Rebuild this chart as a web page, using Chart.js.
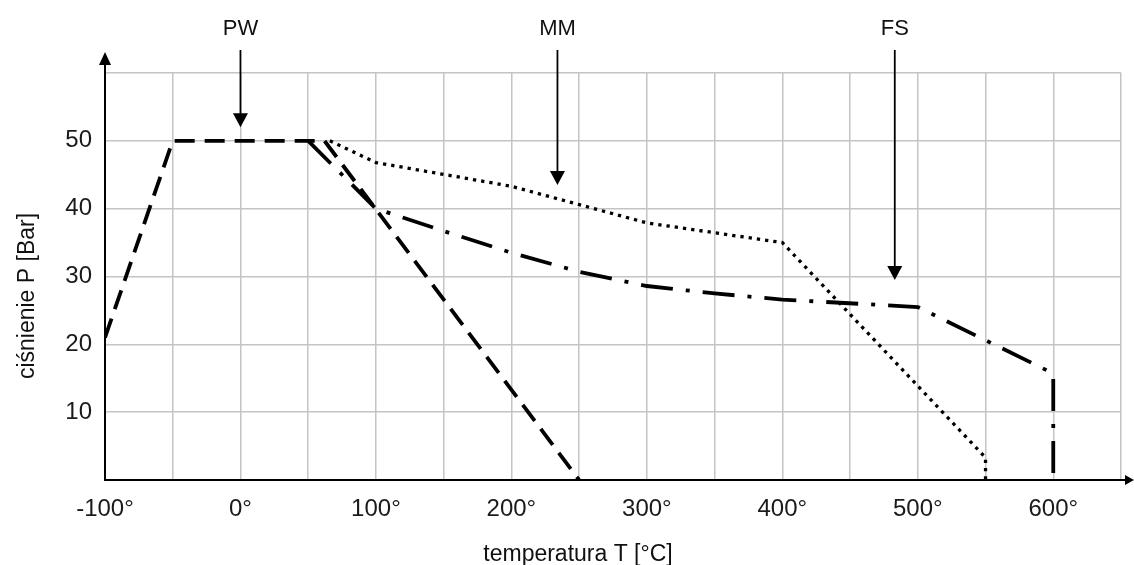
<!DOCTYPE html>
<html>
<head>
<meta charset="utf-8">
<script src="https://cdn.jsdelivr.net/npm/chart.js@4"></script>
<style>
  body { margin: 0; background: #fff; }
  #wrap { width: 1134px; height: 565px; }
</style>
</head>
<body>
<div id="wrap"><canvas id="myChart"></canvas></div>
<script>
// values: temperature [°C] / pressure [Bar]
const pwT = [-100, -50, 62, 250];
const pwP = [21, 50, 50, 0];

const mmT = [66, 100, 200, 300, 400, 550, 550];
const mmP = [50, 46.8, 43.3, 37.9, 35, 3.3, 0];

const fsT = [50, 100, 150, 200, 250, 300, 350, 400, 500, 600, 600];
const fsP = [50, 40, 36.7, 33.5, 30.7, 28.6, 27.5, 26.6, 25.5, 15.7, 0];

// arrows above the chart: label, temperature, pressure at arrow tip
const markerNames = ["PW", "MM", "FS"];
const markerT = [0, 234, 483];
const markerP = [52, 43.5, 29.5];

const xLabelValues = [-100, 0, 100, 200, 300, 400, 500, 600];
const yLabelValues = [10, 20, 30, 40, 50];

const xTitle = "temperatura T [°C]";
const yTitle = "ciśnienie P [Bar]";

const FONT = "'Liberation Sans', Arial, sans-serif";

const toPoints = (xs, ys) => xs.map((x, i) => ({ x: x, y: ys[i] }));

function arrowHead(c, x, y, w, h, dir) {
    c.beginPath();
    if (dir === "down") {
        c.moveTo(x, y);
        c.lineTo(x - w / 2, y - h);
        c.lineTo(x + w / 2, y - h);
    } else if (dir === "up") {
        c.moveTo(x, y);
        c.lineTo(x - w / 2, y + h);
        c.lineTo(x + w / 2, y + h);
    } else {
        c.moveTo(x, y);
        c.lineTo(x - h, y - w / 2);
        c.lineTo(x - h, y + w / 2);
    }
    c.closePath();
    c.fill();
}

const extras = {
    id: "extras",
    afterDraw(chart) {
        const c = chart.ctx;
        const xs = chart.scales.x;
        const ys = chart.scales.y;
        const area = chart.chartArea;
        c.save();
        c.fillStyle = "#000";
        c.strokeStyle = "#000";

        // axis arrows
        c.lineWidth = 2;
        c.beginPath();
        c.moveTo(area.left, area.top);
        c.lineTo(area.left, 60);
        c.moveTo(area.right, area.bottom);
        c.lineTo(1126, area.bottom);
        c.stroke();
        arrowHead(c, area.left, 52, 12, 13, "up");
        arrowHead(c, 1134, area.bottom, 10, 9, "right");

        // marker arrows and names
        c.font = "22px " + FONT;
        c.textAlign = "center";
        c.textBaseline = "alphabetic";
        markerNames.forEach((name, i) => {
            const px = xs.getPixelForValue(markerT[i]);
            const tip = ys.getPixelForValue(markerP[i]);
            c.fillStyle = "#111";
            c.fillText(name, px, 35);
            c.fillStyle = "#000";
            c.lineWidth = 1.8;
            c.beginPath();
            c.moveTo(px, 50);
            c.lineTo(px, tip - 12);
            c.stroke();
            arrowHead(c, px, tip, 15, 14, "down");
        });

        // axis titles
        c.fillStyle = "#111";
        c.font = "23px " + FONT;
        c.textAlign = "center";
        c.fillText(xTitle, 578, 561);
        c.translate(28, 296);
        c.rotate(-Math.PI / 2);
        c.textBaseline = "middle";
        c.fillText(yTitle, 0, 0);
        c.restore();
    }
};

const ctx = document.getElementById("myChart");

new Chart(ctx, {
    type: "scatter",
    data: {
        datasets: [
            {
                label: "PW",
                data: toPoints(pwT, pwP),
                borderColor: "#000",
                borderWidth: 3.8,
                borderDash: [20, 10],
            },
            {
                label: "MM",
                data: toPoints(mmT, mmP),
                borderColor: "#000",
                borderWidth: 3.3,
                borderDash: [3.3, 5],
            },
            {
                label: "FS",
                data: toPoints(fsT, fsP),
                borderColor: "#000",
                borderWidth: 3.8,
                borderDash: [32, 13, 4, 13],
            },
        ],
    },
    options: {
        responsive: true,
        maintainAspectRatio: false,
        animation: false,
        showLine: true,
        elements: {
            point: { radius: 0, hoverRadius: 0 },
            line: { tension: 0, borderCapStyle: "butt", fill: false },
        },
        layout: { padding: { left: 0, right: 13, top: 73, bottom: 0 } },
        plugins: {
            legend: { display: false },
            tooltip: { enabled: false },
        },
        scales: {
            x: {
                type: "linear",
                min: -100,
                max: 650,
                afterFit: (s) => {
                    s.height = 85;
                    s.paddingLeft = 0;
                    s.paddingRight = 0;
                },
                grid: { color: "#c4c4c4", lineWidth: 1.5, drawTicks: false },
                border: { color: "#000", width: 2 },
                ticks: {
                    stepSize: 50,
                    autoSkip: false,
                    maxRotation: 0,
                    padding: 15,
                    color: "#1a1a1a",
                    font: { size: 24, family: FONT },
                    callback: (v) => (xLabelValues.includes(v) ? v + "°" : ""),
                },
            },
            y: {
                min: 0,
                max: 60,
                afterFit: (s) => {
                    s.width = 105;
                    s.paddingTop = 0;
                    s.paddingBottom = 0;
                },
                grid: { color: "#c4c4c4", lineWidth: 1.5, drawTicks: false },
                border: { color: "#000", width: 2 },
                ticks: {
                    stepSize: 10,
                    padding: 13,
                    color: "#1a1a1a",
                    font: { size: 24, family: FONT },
                    callback: (v) => (yLabelValues.includes(v) ? String(v) : ""),
                },
            },
        },
    },
    plugins: [extras],
});
</script>
</body>
</html>
